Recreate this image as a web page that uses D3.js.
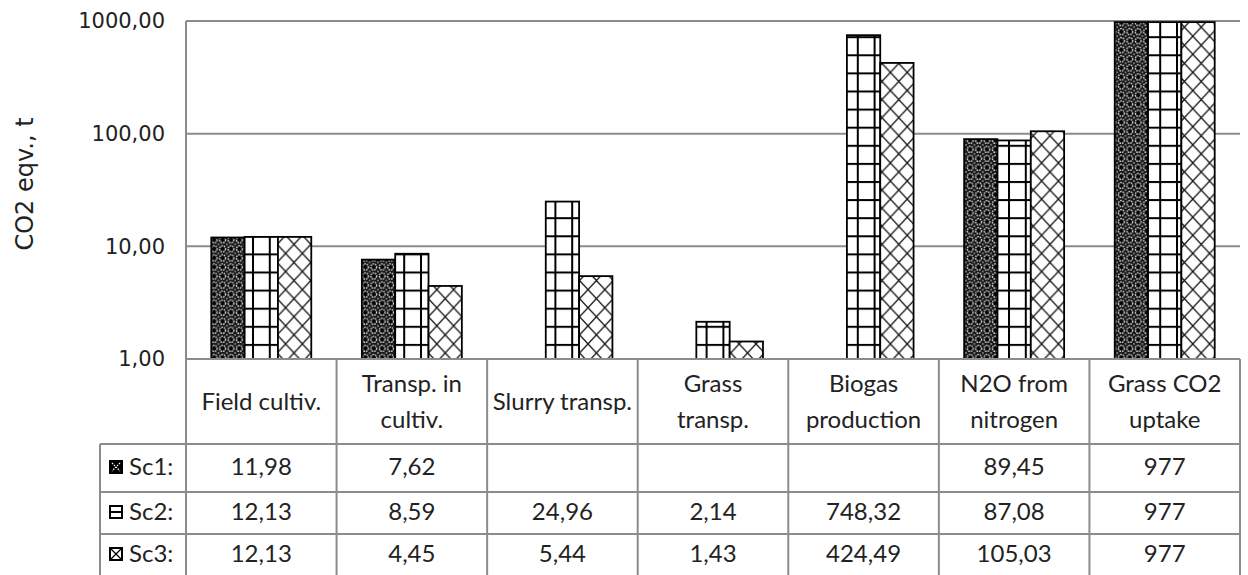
<!DOCTYPE html>
<html>
<head>
<meta charset="utf-8">
<script src="https://cdn.jsdelivr.net/npm/d3@7"></script>
<style>
  html, body { margin: 0; padding: 0; background: #fff; }
  svg { display: block; }
</style>
</head>
<body>
<svg id="chart" width="1248" height="575"></svg>
<script>
// Emission categories (header lines of the data table)
const categories = [
  ["Field cultiv."],
  ["Transp. in", "cultiv."],
  ["Slurry transp."],
  ["Grass", "transp."],
  ["Biogas", "production"],
  ["N2O from", "nitrogen"],
  ["Grass CO2", "uptake"]
];
const seriesNames = ["Sc1:", "Sc2:", "Sc3:"];
// CO2 equivalents, t (null = no value)
const sc1 = [11.98, 7.62, null, null, null, 89.45, 977];
const sc2 = [12.13, 8.59, 24.96, 2.14, 748.32, 87.08, 977];
const sc3 = [12.13, 4.45, 5.44, 1.43, 424.49, 105.03, 977];
const tickValues = [1, 10, 100, 1000];
const tickLabels = ["1,00", "10,00", "100,00", "1000,00"];
const axisTitle = "CO2 eqv., t";

const series = [sc1, sc2, sc3];
const svg = d3.select("#chart");

const plot = { left: 186, right: 1240, top: 21, bottom: 359 };
const table = { labelLeft: 100, headerBottom: 444, rows: [444, 492, 534, 576] };
const gridColor = "#8c8c8c";
const textColor = "#222";
const tableFont = "Lato, 'Open Sans', sans-serif";

// ---- fill patterns ----
const defs = svg.append("defs");
const pw = 16.8, ph = 18.1;

// Sc1: dark fill with light rings around black crosses
const qw = pw / 2, qh = ph / 2;
const p1 = defs.append("pattern").attr("id", "pat-sc1")
  .attr("patternUnits", "userSpaceOnUse").attr("width", qw).attr("height", qh);
p1.append("rect").attr("width", qw).attr("height", qh).attr("fill", "#1a1a1a");
p1.append("ellipse").attr("cx", qw / 2).attr("cy", qh / 2).attr("rx", 2.9).attr("ry", 3.1)
  .attr("fill", "none").attr("stroke", "#d8d8d8").attr("stroke-width", 1.3)
  .attr("stroke-dasharray", "1.6,0.9");
p1.append("path").attr("d", `M${qw / 2 - 1.6},${qh / 2}h3.2M${qw / 2},${qh / 2 - 1.7}v3.4`)
  .attr("stroke", "#000").attr("stroke-width", 1.4);
[[0, 0], [qw, 0], [0, qh], [qw, qh]].forEach(([cx, cy]) => {
  p1.append("circle").attr("cx", cx).attr("cy", cy).attr("r", 0.9).attr("fill", "#999");
});

// Sc2: large grid
const p2 = defs.append("pattern").attr("id", "pat-sc2")
  .attr("patternUnits", "userSpaceOnUse").attr("width", pw).attr("height", ph);
p2.append("rect").attr("width", pw).attr("height", ph).attr("fill", "#fff");
p2.append("rect").attr("x", 0).attr("y", 0).attr("width", 2).attr("height", ph).attr("fill", "#000");
p2.append("rect").attr("x", 0).attr("y", 0).attr("width", pw).attr("height", 2).attr("fill", "#000");

// Sc3: diagonal cross-hatch
const p3 = defs.append("pattern").attr("id", "pat-sc3")
  .attr("patternUnits", "userSpaceOnUse").attr("width", pw).attr("height", ph);
p3.append("rect").attr("width", pw).attr("height", ph).attr("fill", "#fff");
p3.append("path").attr("d", `M0,0L${pw},${ph}M${pw},0L0,${ph}`)
  .attr("stroke", "#111").attr("stroke-width", 1.3).attr("fill", "none");

const fills = ["url(#pat-sc1)", "url(#pat-sc2)", "url(#pat-sc3)"];

// ---- scales ----
const x = d3.scaleBand().domain(d3.range(categories.length))
  .range([plot.left, plot.right]).padding(0);
const groupWidth = x.bandwidth() * 0.664;
const xs = d3.scaleBand().domain(d3.range(series.length))
  .range([(x.bandwidth() - groupWidth) / 2, (x.bandwidth() + groupWidth) / 2]).padding(0);
const y = d3.scaleLog().domain([1, 1000]).range([plot.bottom, plot.top]).clamp(true);

// ---- gridlines ----
svg.append("g").selectAll("line").data(tickValues.filter(v => v > 1)).join("line")
  .attr("x1", plot.left).attr("x2", plot.right)
  .attr("y1", d => y(d)).attr("y2", d => y(d))
  .attr("stroke", gridColor).attr("stroke-width", 2);

// ---- bars ----
const barsG = svg.append("g");
series.forEach((vals, si) => {
  barsG.append("g").selectAll("rect")
    .data(vals.map((v, i) => ({ v, i })).filter(d => d.v != null))
    .join("rect")
    .attr("x", d => x(d.i) + xs(si))
    .attr("width", xs.bandwidth())
    .attr("y", d => y(d.v))
    .attr("height", d => plot.bottom - y(d.v))
    .attr("fill", fills[si])
    .attr("stroke", "#000").attr("stroke-width", 1.8);
});

// ---- y axis ----
const yAxis = d3.axisLeft(y).tickValues(tickValues)
  .tickFormat((d, i) => tickLabels[i]).tickSize(0).tickPadding(21);
const yg = svg.append("g").attr("transform", `translate(${plot.left},0)`).call(yAxis);
yg.select(".domain").remove();
yg.selectAll("text").attr("font-family", "'DejaVu Sans', Verdana, sans-serif")
  .attr("font-size", 21).attr("fill", textColor);

svg.append("text")
  .attr("transform", `translate(33,${(plot.top + plot.bottom) / 2 - 6}) rotate(-90)`)
  .attr("text-anchor", "middle")
  .attr("font-family", "'DejaVu Sans', Verdana, sans-serif")
  .attr("font-size", 24).attr("fill", textColor)
  .text(axisTitle);

// ---- data table ----
const tg = svg.append("g");
// horizontal rules
tg.append("line").attr("x1", plot.left).attr("x2", plot.right)
  .attr("y1", plot.bottom).attr("y2", plot.bottom)
  .attr("stroke", gridColor).attr("stroke-width", 2);
table.rows.slice(0, 3).forEach(ry => {
  tg.append("line").attr("x1", table.labelLeft).attr("x2", plot.right)
    .attr("y1", ry).attr("y2", ry).attr("stroke", gridColor).attr("stroke-width", 2);
});
// vertical rules
svg.append("line").attr("x1", plot.left).attr("x2", plot.left)
  .attr("y1", plot.top).attr("y2", 575).attr("stroke", gridColor).attr("stroke-width", 2);
d3.range(1, categories.length + 1).forEach(i => {
  const xx = i === categories.length ? plot.right : x(i);
  tg.append("line").attr("x1", xx).attr("x2", xx)
    .attr("y1", plot.bottom).attr("y2", 575).attr("stroke", gridColor).attr("stroke-width", 2);
});
tg.append("line").attr("x1", table.labelLeft).attr("x2", table.labelLeft)
  .attr("y1", table.headerBottom).attr("y2", 575).attr("stroke", gridColor).attr("stroke-width", 2);

// header labels
categories.forEach((lines, i) => {
  const cx = x(i) + x.bandwidth() / 2;
  const cy = (plot.bottom + table.headerBottom) / 2;
  const lh = 36;
  const t = tg.append("text").attr("text-anchor", "middle")
    .attr("font-family", tableFont).attr("font-size", 24).attr("fill", textColor);
  lines.forEach((ln, k) => {
    t.append("tspan").attr("x", cx)
      .attr("y", cy + (k - (lines.length - 1) / 2) * lh)
      .attr("dy", "0.35em").text(ln);
  });
});

// value rows
const fmt = v => v == null ? "" : (Number.isInteger(v) ? String(v) : v.toFixed(2).replace(".", ","));
series.forEach((vals, si) => {
  const cy = (table.rows[si] + table.rows[si + 1]) / 2 - 1;
  // legend key
  const kx = 109, ks = 14, ky = cy - ks / 2;
  const key = tg.append("g");
  if (si === 0) {
    key.append("rect").attr("x", kx).attr("y", ky).attr("width", ks).attr("height", ks).attr("fill", "#000");
    key.append("path").attr("d", `M${kx + 3},${ky + 3}L${kx + ks - 3},${ky + ks - 3}M${kx + ks - 3},${ky + 3}L${kx + 3},${ky + ks - 3}`)
      .attr("stroke", "#fff").attr("stroke-width", 1.2).attr("stroke-dasharray", "1.5,1.2");
  } else if (si === 1) {
    key.append("rect").attr("x", kx + 1).attr("y", ky + 1).attr("width", ks - 2).attr("height", ks - 2)
      .attr("fill", "#fff").attr("stroke", "#000").attr("stroke-width", 2);
    key.append("line").attr("x1", kx + 1).attr("x2", kx + ks - 1).attr("y1", ky + ks / 2).attr("y2", ky + ks / 2)
      .attr("stroke", "#000").attr("stroke-width", 2);
  } else {
    key.append("rect").attr("x", kx + 1).attr("y", ky + 1).attr("width", ks - 2).attr("height", ks - 2)
      .attr("fill", "#fff").attr("stroke", "#000").attr("stroke-width", 2);
    key.append("path").attr("d", `M${kx + 2},${ky + 2}L${kx + ks - 2},${ky + ks - 2}M${kx + ks - 2},${ky + 2}L${kx + 2},${ky + ks - 2}`)
      .attr("stroke", "#000").attr("stroke-width", 1.3);
  }
  tg.append("text").attr("x", 129).attr("y", cy).attr("dy", "0.35em")
    .attr("font-family", tableFont).attr("font-size", 24).attr("fill", textColor)
    .text(seriesNames[si]);
  vals.forEach((v, i) => {
    tg.append("text").attr("x", x(i) + x.bandwidth() / 2).attr("y", cy).attr("dy", "0.35em")
      .attr("text-anchor", "middle")
      .attr("font-family", tableFont).attr("font-size", 24).attr("fill", textColor)
      .text(fmt(v));
  });
});
</script>
</body>
</html>
